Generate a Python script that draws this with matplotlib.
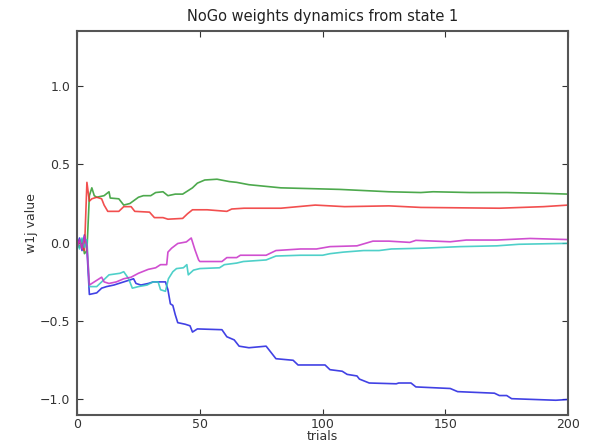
import matplotlib
matplotlib.use("Agg")
import matplotlib.pyplot as plt

# ---- data (trial, value) ----
blue_t = [0, 1, 2, 3, 4, 5, 8, 10, 12, 15, 19, 21, 23, 24, 26, 29, 31, 36, 37, 38, 39, 40, 41, 44, 46, 47, 49,
          59, 61, 64, 66, 70, 77, 79, 81, 88, 90, 101, 103, 108, 110, 114, 115, 119, 130, 131, 136, 138, 152,
          155, 170, 172, 175, 177, 195, 200]
blue_v = [-0.02, 0.03, -0.05, 0.05, -0.04, -0.33, -0.32, -0.29, -0.28, -0.27, -0.25, -0.24, -0.23, -0.26, -0.27,
          -0.26, -0.25, -0.25, -0.30, -0.39, -0.40, -0.46, -0.51, -0.52, -0.53, -0.57, -0.55,
          -0.555, -0.60, -0.62, -0.66, -0.67, -0.66, -0.70, -0.74, -0.75, -0.78, -0.78, -0.81, -0.82, -0.84,
          -0.85, -0.87, -0.895, -0.90, -0.895, -0.895, -0.92, -0.93, -0.95, -0.96, -0.975, -0.975, -0.995,
          -1.005, -1.0]

green_t = [0, 1, 2, 3, 4, 5, 6, 7, 8, 11, 13, 13.5, 17, 18, 19, 21.5, 25, 27, 30, 32, 35, 37, 40, 43, 47, 49,
           52, 57, 62, 65, 70, 83, 95, 107, 127, 140, 145, 160, 175, 190, 200]
green_v = [0.0, -0.03, 0.02, -0.07, -0.05, 0.30, 0.35, 0.30, 0.29, 0.30, 0.325, 0.285, 0.28, 0.26, 0.24, 0.25,
           0.29, 0.30, 0.30, 0.32, 0.325, 0.30, 0.31, 0.31, 0.35, 0.38, 0.40, 0.405, 0.39, 0.385, 0.37, 0.35,
           0.345, 0.34, 0.325, 0.32, 0.325, 0.32, 0.32, 0.315, 0.31]

red_t = [0, 1, 2, 3, 4, 5, 6, 8, 10, 11, 12.5, 17, 19, 22, 23.5, 29.5, 31.5, 35, 37, 43, 45, 47, 53, 61, 63, 68,
         83, 97, 109, 127, 140, 172, 190, 200]
red_v = [-0.02, 0.01, -0.03, -0.05, 0.385, 0.265, 0.28, 0.29, 0.28, 0.24, 0.20, 0.20, 0.23, 0.23, 0.20, 0.195,
         0.16, 0.16, 0.15, 0.155, 0.185, 0.21, 0.21, 0.20, 0.215, 0.22, 0.22, 0.24, 0.23, 0.235, 0.225, 0.22,
         0.23, 0.24]

cyan_t = [0, 1, 2, 3, 4, 5, 8, 10, 13, 17.5, 19, 21, 22.5, 25, 28.5, 31, 33, 34, 36, 37.2, 39, 40.5, 43.3, 44.7,
          45.3, 47.4, 50, 58, 60, 65, 67.7, 77, 81, 91, 100, 103, 108.5, 116.7, 123, 128, 141, 156, 171, 180, 200]
cyan_v = [0.0, -0.04, 0.03, -0.03, 0.02, -0.28, -0.28, -0.25, -0.205, -0.195, -0.185, -0.23, -0.29, -0.28,
          -0.27, -0.25, -0.25, -0.30, -0.31, -0.23, -0.185, -0.165, -0.16, -0.14, -0.205, -0.175, -0.165,
          -0.16, -0.14, -0.13, -0.12, -0.11, -0.085, -0.08, -0.08, -0.07, -0.06, -0.05, -0.05, -0.04, -0.035,
          -0.025, -0.02, -0.01, -0.004]

magenta_t = [0, 1, 2, 3, 4, 5, 7, 10, 11, 13, 16, 19, 22, 25, 29, 32, 34, 36.5, 37, 38.5, 41, 44.5, 46.5, 48,
             49.5, 50, 59, 61, 65, 66.5, 77, 81, 91, 97.5, 103, 114, 120.5, 127, 135.5, 138, 152, 158.5, 171,
             184.5, 200]
magenta_v = [-0.03, 0.02, -0.04, 0.04, -0.02, -0.27, -0.25, -0.22, -0.25, -0.26, -0.25, -0.23, -0.22, -0.195,
             -0.17, -0.16, -0.14, -0.14, -0.06, -0.035, -0.005, 0.005, 0.03, -0.045, -0.11, -0.12, -0.12,
             -0.095, -0.095, -0.08, -0.08, -0.05, -0.04, -0.04, -0.025, -0.02, 0.01, 0.01, 0.002, 0.015, 0.006,
             0.017, 0.017, 0.027, 0.02]

series = [
    (blue_t, blue_v, "#2020e0"),
    (green_t, green_v, "#2e9a2e"),
    (red_t, red_v, "#f03030"),
    (cyan_t, cyan_v, "#30c8c0"),
    (magenta_t, magenta_v, "#c830c8"),
]

title = "NoGo weights dynamics from state 1"
xlabel = "trials"
ylabel = "w1j value"
xticks = [0, 50, 100, 150, 200]
yticks = [-1.0, -0.5, 0.0, 0.5, 1.0]

fig = plt.figure(figsize=(5.93, 4.44), dpi=100)
ax = fig.add_axes([0.130, 0.065, 0.828, 0.865])

for t, v, c in series:
    ax.plot(t, v, color=c, lw=1.2, alpha=0.85)

ax.set_xlim(0, 200)
ax.set_ylim(-1.1, 1.35)
ax.set_xticks(xticks)
ax.set_yticks(yticks)
ax.set_yticklabels(["\u22121.0", "\u22120.5", "0.0", "0.5", "1.0"])
ax.tick_params(direction="in", top=True, right=True, length=4, width=0.8,
               labelsize=9, colors="#333333")
ax.tick_params(axis="x", pad=2)
ax.tick_params(axis="y", pad=5)
for s in ax.spines.values():
    s.set_color("#555555")
    s.set_linewidth(1.5)

ax.set_title(title, fontsize=10.5, color="#222222", pad=7)
ax.set_xlabel(xlabel, fontsize=9, color="#333333", labelpad=-1)
ax.set_ylabel(ylabel, fontsize=9, color="#333333", labelpad=1)

fig.savefig("out.png", dpi=100)
